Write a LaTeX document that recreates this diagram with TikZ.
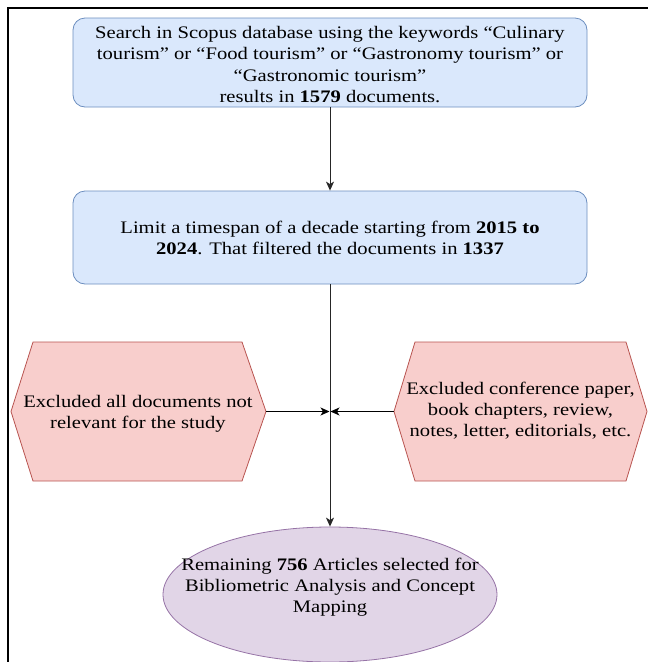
\documentclass[tikz,border=0pt]{standalone}
\usepackage{fontspec}
\setmainfont{Liberation Serif}[FakeStretch=1.17]
\usetikzlibrary{arrows.meta,shapes.geometric}
\definecolor{bluefill}{HTML}{DAE8FC}
\definecolor{bluestroke}{HTML}{6C8EBF}
\definecolor{redfill}{HTML}{F8CECC}
\definecolor{redstroke}{HTML}{B85450}
\definecolor{purplefill}{HTML}{E1D5E7}
\definecolor{purplestroke}{HTML}{9673A6}
\begin{document}
\begin{tikzpicture}[x=1pt,y=-1pt,
  txt/.style={align=center,font=\fontsize{17.6}{21.3}\selectfont,inner sep=0pt},
  bluebox/.style={draw=bluestroke,fill=bluefill,rounded corners=12pt,
    minimum width=514pt,line width=0.8pt,inner sep=0pt},
  hexa/.style={draw=redstroke,fill=redfill,line width=0.8pt},
  ell/.style={ellipse,draw=purplestroke,fill=purplefill,line width=0.8pt,
    minimum width=334pt,minimum height=135pt,inner sep=0pt},
  conn/.style={-{Stealth[length=9pt,width=8pt,inset=2.5pt]},line width=0.9pt,draw=black!85},
  frameline/.style={line width=2pt,draw=black}]
\useasboundingbox (0,0) rectangle (648,662);
% frame
\draw[frameline] (8,662) -- (8,8) -- (648,8);
% boxes
\node[bluebox,minimum height=89pt] (b1) at (330,62.5) {};
\node[txt] (b1t) at (330,64.5)
  {Search in Scopus database using the keywords “Culinary\\
   tourism” or “Food tourism” or “Gastronomy tourism” or\\
   “Gastronomic tourism”\\
   results in \textbf{1579} documents.};
\node[bluebox,minimum height=93pt] (b2) at (330,237.5) {};
\node[txt] (b2t) at (330,238)
  {Limit a timespan of a decade starting from \textbf{2015 to}\\
   \textbf{2024}. That filtered the documents in \textbf{1337}};
% hexagons
\draw[hexa] (11,411.5) coordinate (Lwest) -- (33,342) -- (242,342) -- (266,411.5) coordinate (Ltip)
  -- (242,481) -- (33,481) -- cycle;
\draw[hexa] (394,411.5) coordinate (Rtip) -- (415,342) -- (626,342) -- (647,411.5) coordinate (Reast)
  -- (626,481) -- (415,481) -- cycle;
\node[txt] (lt) at (138,414) {Excluded all documents not\\ relevant for the study};
\node[txt] (rt) at (520.5,410.5) {Excluded conference paper,\\ book chapters, review,\\ notes, letter, editorials, etc.};
% ellipse
\node[ell] (el) at (330,594.5) {};
\node[txt] (elt) at (330,587) {Remaining \textbf{756} Articles selected for\\
  Bibliometric Analysis and Concept\\ Mapping};
% connectors
\coordinate (mid) at (330,411.5);
\draw[conn] (b1.south) -- (b2.north);
\draw[conn] (b2.south) -- (el.north);
\draw[conn,draw=black] (Ltip) -- ([xshift=-0.5pt]mid);
\draw[conn,draw=black] (Rtip) -- ([xshift=0.5pt]mid);
\end{tikzpicture}
\end{document}
